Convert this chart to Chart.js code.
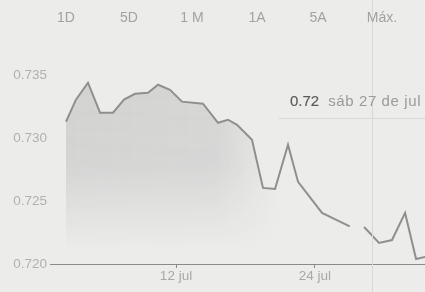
<!DOCTYPE html>
<html><head><meta charset="utf-8">
<script src="https://cdn.jsdelivr.net/npm/chart.js@4/dist/chart.umd.min.js"></script>
<style>
html,body{margin:0;padding:0;background:#ececeb;width:425px;height:292px;overflow:hidden;font-family:"Liberation Sans",Arial,sans-serif}
#wrap{position:relative;width:425px;height:292px}
#c{position:absolute;left:0;top:0}
.btn{position:absolute;top:9px;font-size:14px;color:#a2a2a2;transform:translateX(-50%);white-space:nowrap}
#tip{position:absolute;left:290px;top:92px;font-size:15px;white-space:nowrap}
#tip b{color:#5a5a5a;font-weight:normal;margin-right:9px;-webkit-text-stroke:0.15px #5a5a5a}
#tip span{color:#9a9a9a;letter-spacing:0.6px}
#tipline{position:absolute;left:279px;top:118px;width:146px;height:1px;background:#d8d8d8}
</style></head>
<body><div id="wrap"><canvas id="c" width="425" height="292"></canvas>
<div id="tipline"></div><div id="tip"><b id="tipv"></b><span id="tipd"></span></div></div>
<script>
// ---- data ----
const rangeLabels = ['1D','5D','1 M','1A','5A','Máx.'];
const days  = [2.50, 3.36, 4.40, 5.44, 6.56, 7.51, 8.46, 9.58, 10.45, 11.48, 12.52, 14.33, 15.63, 16.49, 17.27, 18.56, 19.51, 20.55, 21.67, 22.54, 24.61, 27.00, 27.60, 28.24, 29.53, 30.65, 31.78, 32.73, 33.50];
const rates = [0.73133, 0.73309, 0.73444, 0.73205, 0.73205, 0.73309, 0.73356, 0.73364, 0.73428, 0.73388, 0.73293, 0.73277, 0.73125, 0.73149, 0.73109, 0.72989, 0.72606, 0.72598, 0.72950, 0.72654, 0.72407, 0.72300, null, 0.72295, 0.72168, 0.72191, 0.72407, 0.72040, 0.72056];
const xTickDays = [12, 24];
const xTickLabels = ['12 jul', '24 jul'];
const yTicks = [0.720, 0.725, 0.730, 0.735];
const hoverDay = 28.9;
const hoverValue = '0.72';
const hoverDate = 'sáb 27 de jul';

// ---- buttons / tooltip text ----
const btnX = [66, 129, 192, 257, 318, 382];
const wrap = document.getElementById('wrap');
rangeLabels.forEach((t,i)=>{const d=document.createElement('div');d.className='btn';d.style.left=btnX[i]+'px';d.textContent=t;wrap.appendChild(d);});
document.getElementById('tipv').textContent = hoverValue;
document.getElementById('tipd').textContent = hoverDate;

const points = days.map((d,i)=>({x:d, y:rates[i]}));

let patCache = null;
function fillPattern(chart){
  const ca = chart.chartArea;
  if(!ca) return 'rgba(0,0,0,0)';
  if(patCache) return patCache;
  const xs = chart.scales.x, ys = chart.scales.y;
  const off = document.createElement('canvas');
  off.width = chart.width; off.height = chart.height;
  const g = off.getContext('2d');
  const hx0 = xs.getPixelForValue(days[0]);
  const hx1 = xs.getPixelForValue(21);
  const hg = g.createLinearGradient(hx0,0,hx1,0);
  hg.addColorStop(0,'rgba(150,150,150,0.30)');
  hg.addColorStop(0.7,'rgba(150,150,150,0.27)');
  hg.addColorStop(1,'rgba(150,150,150,0)');
  g.fillStyle = hg; g.fillRect(0,0,off.width,off.height);
  g.globalCompositeOperation='destination-in';
  const vg = g.createLinearGradient(0,ca.top,0,ys.getPixelForValue(0.7212));
  vg.addColorStop(0,'rgba(0,0,0,1)');
  vg.addColorStop(0.6,'rgba(0,0,0,0.9)');
  vg.addColorStop(1,'rgba(0,0,0,0)');
  g.fillStyle = vg; g.fillRect(0,0,off.width,off.height);
  patCache = g.createPattern(off,'no-repeat');
  return patCache;
}

const crosshair = {
  id:'crosshair',
  afterDraw(chart){
    const x = chart.scales.x.getPixelForValue(hoverDay);
    const c = chart.ctx;
    c.save(); c.strokeStyle='#d8d8d8'; c.lineWidth=1;
    c.beginPath(); c.moveTo(Math.round(x)+0.5,0); c.lineTo(Math.round(x)+0.5,chart.height); c.stroke();
    c.restore();
  }
};

new Chart(document.getElementById('c'), {
  type:'line',
  data:{datasets:[{
    data: points,
    borderColor:'#8f8f8f',
    borderWidth:2,
    pointRadius:0,
    tension:0,
    spanGaps:false,
    fill:'start',
    backgroundColor:(ctx)=>fillPattern(ctx.chart)
  }]},
  options:{
    responsive:false,
    animation:false,
    events:[],
    layout:{padding:{top:38,right:0,left:0,bottom:0}},
    plugins:{legend:{display:false},tooltip:{enabled:false}},
    scales:{
      x:{
        type:'linear', min:1.12, max:33.5,
        afterFit(s){ s.height = 28; },
        afterBuildTicks(s){ s.ticks = xTickDays.map(v=>({value:v})); },
        grid:{drawOnChartArea:false, drawTicks:true, tickLength:4, color:'#8a8a8a'},
        border:{display:true, color:'#8a8a8a', width:1},
        ticks:{padding:0, color:'#a8a8a8', font:{family:'"Liberation Sans", Arial, sans-serif', size:13.5},
          maxRotation:0, autoSkip:false,
          callback:(v)=>{const i=xTickDays.indexOf(v);return i>=0?xTickLabels[i]:'';}}
      },
      y:{
        min:0.720, max:0.738,
        afterFit(s){ s.width = 50; },
        afterBuildTicks(s){ s.ticks = yTicks.map(v=>({value:v})); },
        grid:{display:false, drawTicks:false},
        border:{display:false},
        ticks:{padding:3, color:'#b0b0b0', font:{family:'"Liberation Sans", Arial, sans-serif', size:13.5},
          callback:(v)=>Number(v).toFixed(3)}
      }
    }
  },
  plugins:[crosshair]
});
</script></body></html>
